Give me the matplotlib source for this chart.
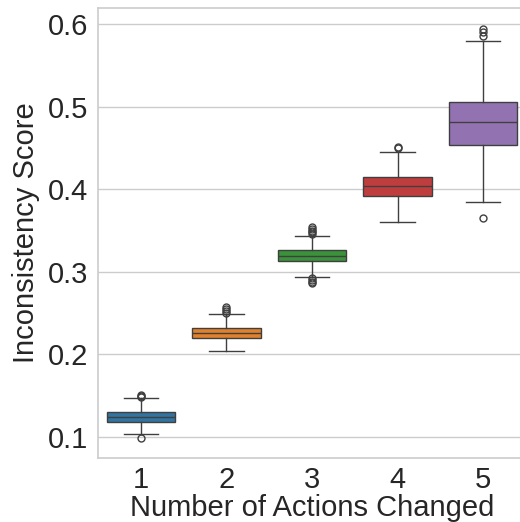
import matplotlib
matplotlib.use("Agg")
from matplotlib import pyplot as plt

# values
actions = [1, 2, 3, 4, 5]
medians = [0.1238, 0.2259, 0.3195, 0.4039, 0.4814]
q1s = [0.1178, 0.2202, 0.3127, 0.3918, 0.4531]
q3s = [0.1299, 0.2316, 0.3260, 0.4152, 0.5052]
whisk_lo = [0.1040, 0.2045, 0.2937, 0.3607, 0.3841]
whisk_hi = [0.1468, 0.2485, 0.3437, 0.4447, 0.5790]
fliers = [
    [0.0984, 0.1490, 0.1500, 0.1510],
    [0.2505, 0.2530, 0.2550, 0.2570],
    [0.2925, 0.2900, 0.2880, 0.2860, 0.3460, 0.3480, 0.3500, 0.3520, 0.3545],
    [0.4495, 0.4507],
    [0.3648, 0.5860, 0.5900, 0.5945],
]
colors = ['#3274a1', '#e1812c', '#3a923a', '#c03d3e', '#9372b2']

plt.rcParams['font.family'] = ['Liberation Sans', 'DejaVu Sans']

fig = plt.figure(figsize=(5.2, 5.22), dpi=100)
ax = fig.add_axes([98 / 520, 64 / 522, 428 / 520, 450 / 522])

stats = []
for i in range(len(actions)):
    stats.append({
        'med': medians[i], 'q1': q1s[i], 'q3': q3s[i],
        'whislo': whisk_lo[i], 'whishi': whisk_hi[i],
        'fliers': fliers[i], 'label': str(actions[i]),
    })

line_col = '#3f3f3f'
bp = ax.bxp(stats, positions=range(len(actions)), widths=0.8, patch_artist=True,
            boxprops=dict(edgecolor=line_col, linewidth=1.0),
            medianprops=dict(color=line_col, linewidth=1.0),
            whiskerprops=dict(color=line_col, linewidth=1.0),
            capprops=dict(color=line_col, linewidth=1.0),
            flierprops=dict(marker='o', markerfacecolor='none',
                            markeredgecolor=line_col, markersize=5, markeredgewidth=1.0))
for patch, c in zip(bp['boxes'], colors):
    patch.set_facecolor(c)

ax.set_xlim(-0.5, 4.5)
ax.set_ylim(0.0746, 0.6194)
ax.set_yticks([0.1, 0.2, 0.3, 0.4, 0.5, 0.6])
ax.set_xticks(range(len(actions)))
ax.set_xticklabels([str(a) for a in actions])
ax.yaxis.grid(True, color='#cccccc', linewidth=1.0)
ax.set_axisbelow(True)
for s in ax.spines.values():
    s.set_color('#cccccc')
    s.set_linewidth(1.2)
ax.tick_params(length=0, labelsize=21, labelcolor='#262626')
ax.tick_params(axis='y', pad=7)
ax.tick_params(axis='x', pad=6)
ax.set_xlabel('Number of Actions Changed', fontsize=21, color='#262626', labelpad=0)
ax.set_ylabel('Inconsistency Score', fontsize=21, color='#262626', labelpad=6)

fig.savefig('out.png', dpi=100)
